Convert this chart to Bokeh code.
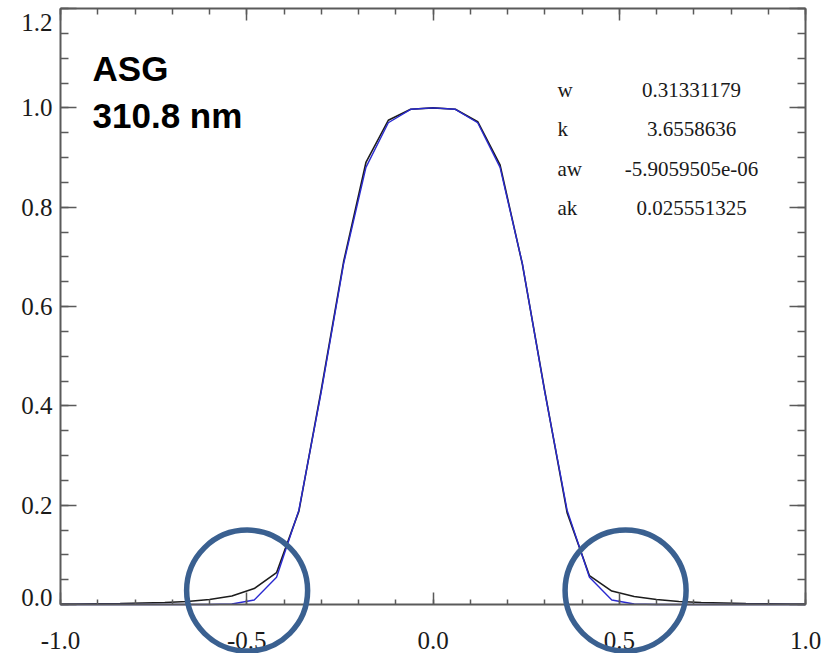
import numpy as np
from bokeh.plotting import figure
from bokeh.models import (ColumnDataSource, LinearAxis, FixedTicker, Range1d,
                          Label, CustomJSTickFormatter)
from bokeh.core.properties import value
from bokeh.embed import file_html
from bokeh.resources import INLINE

# Sample positions (nm offset from line centre)
x_pos = [-1.00, -0.96, -0.90, -0.84, -0.78, -0.72, -0.66, -0.60, -0.54, -0.48,
         -0.42, -0.36, -0.30, -0.24, -0.18, -0.12, -0.06, 0.00, 0.06, 0.12,
         0.18, 0.24, 0.30, 0.36, 0.42, 0.48, 0.54, 0.60, 0.66, 0.72,
         0.78, 0.84, 0.90, 0.96, 1.00]

# Measured slit function (black)
measured = [0.001, 0.001, 0.0015, 0.002, 0.003, 0.004, 0.006, 0.010, 0.017, 0.032,
            0.064, 0.188, 0.432, 0.690, 0.890, 0.975, 0.997, 1.000, 0.997, 0.972,
            0.885, 0.685, 0.430, 0.185, 0.058, 0.027, 0.016, 0.010, 0.006, 0.004,
            0.003, 0.002, 0.0015, 0.001, 0.001]

# Asymmetric super-Gaussian fit (blue)
fitted = [0.0, 0.0, 0.0, 0.0, 0.0, 0.0, 0.0, 0.0, 0.001, 0.009,
          0.055, 0.190, 0.428, 0.686, 0.880, 0.970, 0.997, 1.000, 0.997, 0.970,
          0.880, 0.686, 0.428, 0.190, 0.055, 0.009, 0.001, 0.0, 0.0, 0.0,
          0.0, 0.0, 0.0, 0.0, 0.0]

# Fit parameters
param_names = ["w", "k", "aw", "ak"]
param_values = ["0.31331179", "3.6558636", "-5.9059505e-06", "0.025551325"]

x_ticks = [-1.0, -0.5, 0.0, 0.5, 1.0]
y_ticks = [0.0, 0.2, 0.4, 0.6, 0.8, 1.0, 1.2]

FRAME = "#5a5a5a"
SERIF = "Liberation Serif"
W, H = 836, 653
PX_X = 745 / 2.0              # pixels per unit along x inside the box
PX_Y = 596 / 1.2              # pixels per unit along y inside the box

# The plotting area spans the whole canvas; the box is drawn by fixed axes
p = figure(frame_width=W, frame_height=H, output_backend="svg",
           toolbar_location=None, x_axis_location=None, y_axis_location=None,
           x_range=Range1d(-1.0 - 60 / PX_X, 1.0 + 31 / PX_X),
           y_range=Range1d(-49 / PX_Y, 1.2 + 8 / PX_Y),
           min_border=0)
p.grid.visible = False
p.outline_line_color = None
p.background_fill_color = "white"
p.border_fill_color = "white"

x_minor = [round(-1.0 + 0.1 * i, 2) for i in range(21)]
y_minor = [round(0.05 * i, 2) for i in range(25)]
blank = CustomJSTickFormatter(code="return ''")
one_dec = CustomJSTickFormatter(code="return tick.toFixed(1)")
# end labels of the y axis are nudged inside the box, drawn separately below
y_inner = CustomJSTickFormatter(
    code="return (tick < 1e-6 || tick > 1.2 - 1e-6) ? '' : tick.toFixed(1)")


def make_axis(ticks, minor, loc, bounds, major_len, minor_len, formatter):
    ax = LinearAxis(ticker=FixedTicker(ticks=ticks, minor_ticks=minor),
                    fixed_location=loc, bounds=bounds)
    ax.axis_line_color = FRAME
    ax.axis_line_width = 2
    ax.major_tick_line_color = FRAME
    ax.minor_tick_line_color = FRAME
    ax.major_tick_line_width = 1.5
    ax.minor_tick_line_width = 1.5
    ax.major_tick_in = major_len
    ax.major_tick_out = 0
    ax.minor_tick_in = minor_len
    ax.minor_tick_out = 0
    ax.formatter = formatter
    ax.major_label_text_font = SERIF
    ax.major_label_text_font_size = "25px"
    ax.major_label_text_color = "#1a1a1a"
    if formatter is blank:
        ax.major_label_text_font_size = "0px"
    return ax


bottom = make_axis(x_ticks, x_minor, 0.0, (-1.0, 1.0), 12, 5, one_dec)
bottom.major_label_standoff = 27
top = make_axis(x_ticks, x_minor, 1.2, (-1.0, 1.0), 12, 6, blank)
left = make_axis(y_ticks, y_minor, -1.0, (0.0, 1.2), 16, 8, y_inner)
left.major_label_standoff = 8
right = make_axis(y_ticks, y_minor, 1.0, (0.0, 1.2), 16, 8, blank)

p.add_layout(bottom, "below")
p.add_layout(top, "above")
p.add_layout(left, "left")
p.add_layout(right, "right")

for txt, yv in (("1.2", 1.2 - 14 / PX_Y), ("0.0", 7.5 / PX_Y)):
    p.add_layout(Label(x=-1.0, y=yv, x_offset=-8, text=txt, text_font=SERIF,
                       text_font_size="25px", text_color="#1a1a1a",
                       text_align="right", text_baseline="middle"))

src = ColumnDataSource(dict(x=x_pos, measured=measured, fitted=fitted))
p.line("x", "measured", source=src, line_color="#1c1c1c", line_width=1.6)
p.line("x", "fitted", source=src, line_color="#2a2ad0", line_width=1.4)

# Title block
p.add_layout(Label(x=-0.914, y=1.0785, text="ASG", text_font="Liberation Sans",
                   text_font_style="bold", text_font_size="35px",
                   text_color="black", text_baseline="alphabetic"))
p.add_layout(Label(x=-0.914, y=0.984, text="310.8 nm", text_font="Liberation Sans",
                   text_font_style="bold", text_font_size="35px",
                   text_color="black", text_baseline="alphabetic"))

# Parameter table
row_y = [1.036, 0.957, 0.877, 0.799]
tsrc = ColumnDataSource(dict(name=param_names, val=param_values, y=row_y,
                             xn=[0.334] * 4, xv=[0.694] * 4))
p.text(x="xn", y="y", text="name", source=tsrc, text_font=value(SERIF),
       text_font_size="21px", text_color="#1a1a1a",
       text_align="left", text_baseline="alphabetic")
p.text(x="xv", y="y", text="val", source=tsrc, text_font=value(SERIF),
       text_font_size="21px", text_color="#1a1a1a",
       text_align="center", text_baseline="alphabetic")

# Highlight rings around the two wings, drawn above axes and labels
p.scatter(x=[-0.499, 0.517], y=[0.028, 0.028], marker="circle", size=121,
          fill_color=None, line_color="#3a6090", line_width=5.5,
          level="overlay")

open("out.html", "w").write(file_html(p, INLINE))
